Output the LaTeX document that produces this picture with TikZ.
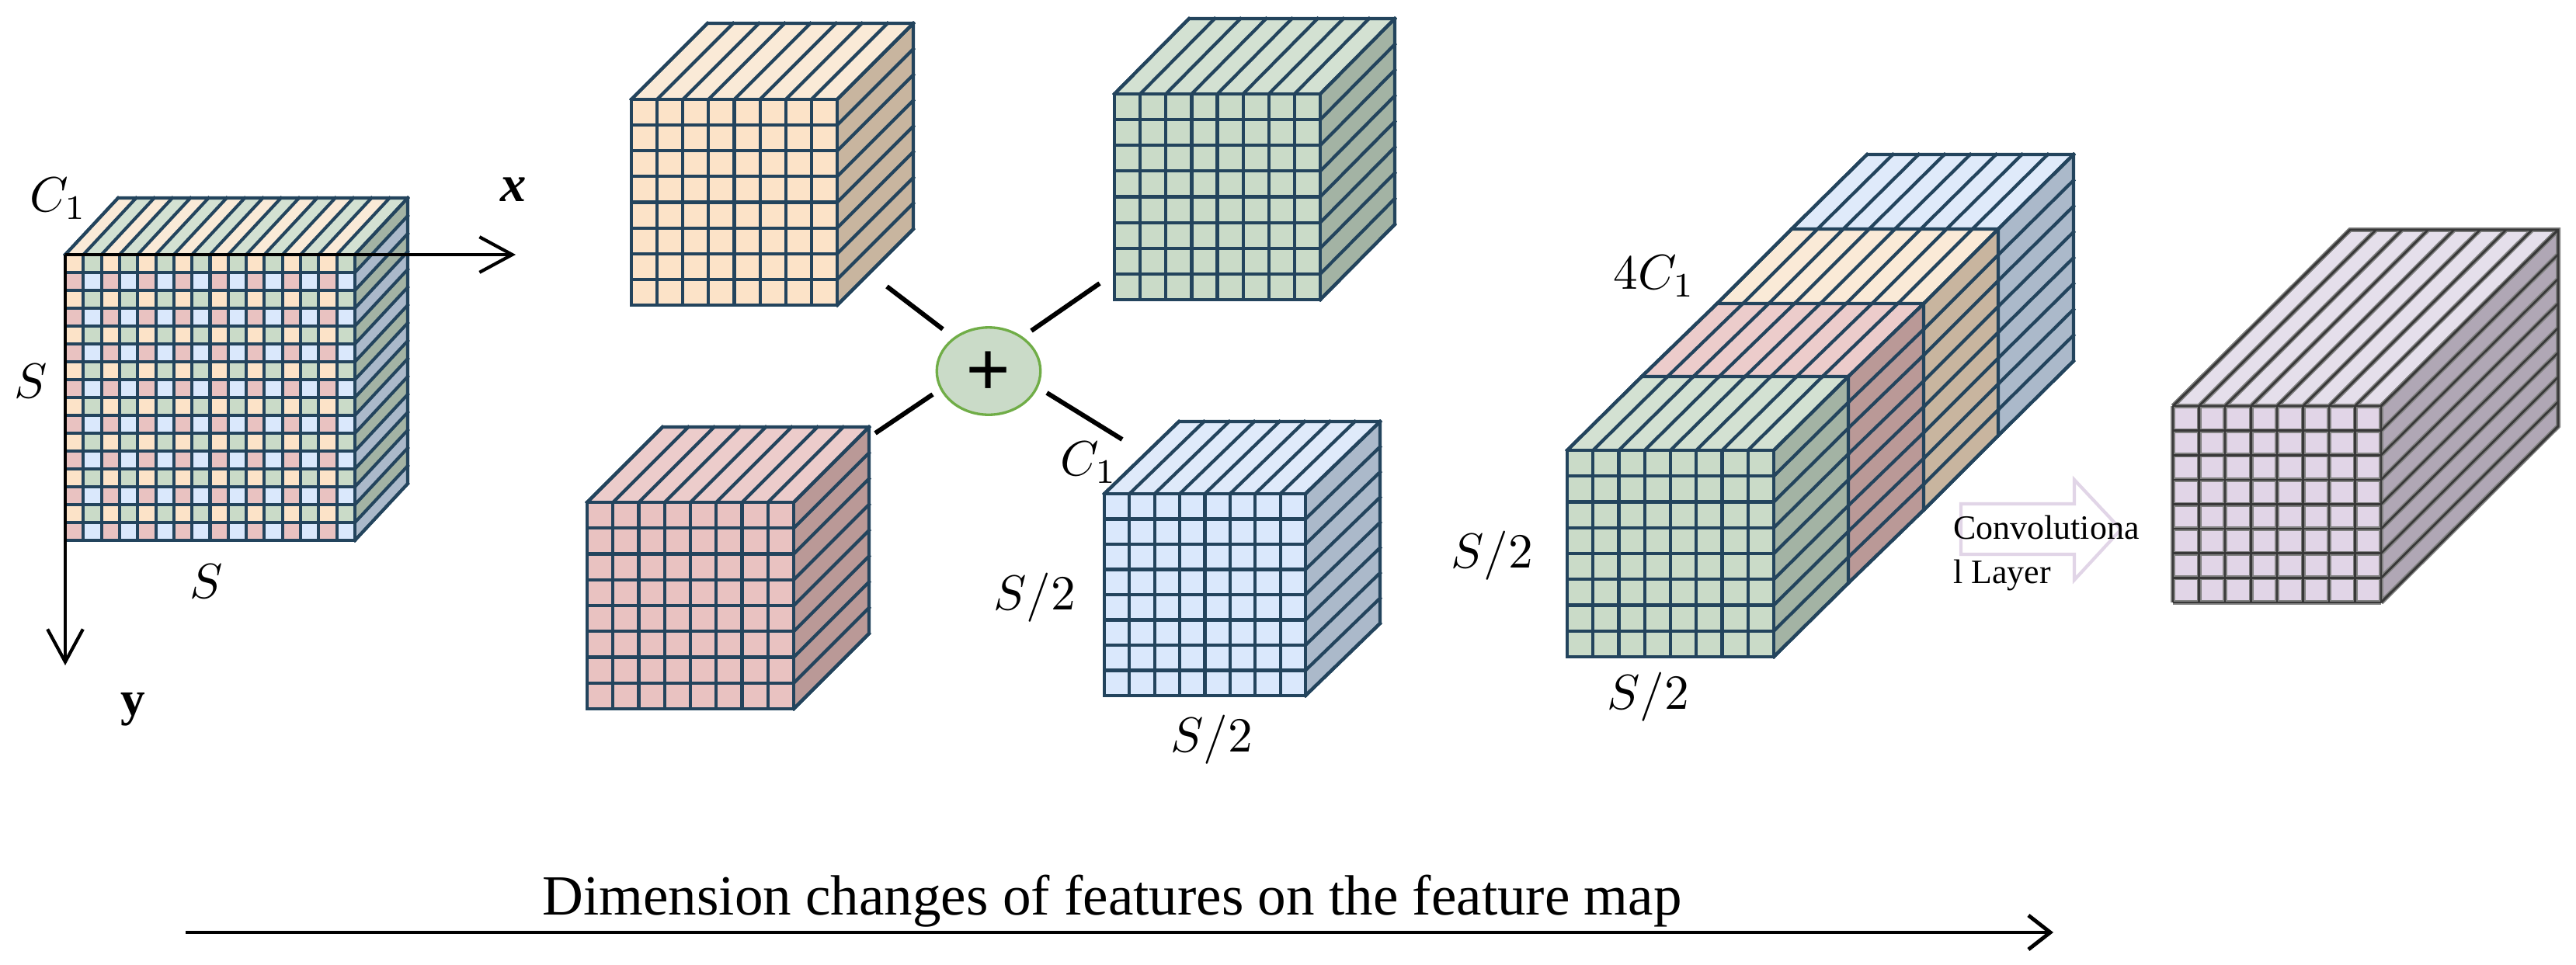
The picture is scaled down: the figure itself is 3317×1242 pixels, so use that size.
\documentclass[tikz,border=0pt]{standalone}
\usepackage{fontspec}
\setmainfont{Liberation Serif}
\usetikzlibrary{arrows.meta,shapes.geometric}
\definecolor{edge}{HTML}{23445D}
\definecolor{orF}{HTML}{FCE3C8}\definecolor{orT}{HTML}{FAEAD7}\definecolor{orS}{HTML}{C8B59F}
\definecolor{grF}{HTML}{CADBC8}\definecolor{grT}{HTML}{D3E1D2}\definecolor{grS}{HTML}{A3B3A4}
\definecolor{piF}{HTML}{E9C2C1}\definecolor{piT}{HTML}{ECCCCB}\definecolor{piS}{HTML}{BA9997}
\definecolor{blF}{HTML}{DAE8FC}\definecolor{blT}{HTML}{DFEAFA}\definecolor{blS}{HTML}{ABB9CA}
\definecolor{laF}{HTML}{E1D5E7}\definecolor{laT}{HTML}{E5DFEB}\definecolor{laS}{HTML}{B0A7B5}
\definecolor{sumring}{HTML}{70AD47}
\newcommand{\CubeFill}[9]{%
  \fill[#7] (#1,#2) rectangle ++(#3,#4);
  \fill[#8] (#1,#2) -- ++(#5,-#6) -- ++(#3,0) -- ++(-#5,#6) -- cycle;
  \fill[#9] ({#1+#3},#2) -- ++(#5,-#6) -- ++(0,#4) -- ++(-#5,#6) -- cycle;
}
\newcommand{\CubeLines}[7]{%
  \foreach \i in {0,...,#7}{
    \pgfmathsetmacro{\px}{#1+\i*#3/#7}
    \pgfmathsetmacro{\py}{#2+\i*#4/#7}
    \draw (\px,#2) -- ++(0,#4);
    \draw (#1,\py) -- ++(#3,0);
    \draw (\px,#2) -- ++(#5,-#6);
    \draw ({#1+#3},\py) -- ++(#5,-#6);
  }
  \draw[line join=miter] (#1,#2) -- ++(#5,-#6) -- ++(#3,0) -- ++(0,#4) -- ++(-#5,#6);
}
\newcommand{\Cube}[9]{%
  \CubeFill{#1}{#2}{#3}{#4}{#5}{#6}{#7}{#8}{#9}
  \begin{scope}[gridline]
    \CubeLines{#1}{#2}{#3}{#4}{#5}{#6}{8}
  \end{scope}
}
\tikzset{
  gridline/.style={draw=edge,line width=2.4pt,line cap=rect},
  gridthin/.style={draw=edge,line width=2.3pt,line cap=rect},
  halo/.style={draw=black!50,line width=3.4pt,line cap=butt},
  core/.style={draw=black!78,line width=1.5pt,line cap=butt},
  axisline/.style={draw=black,line width=2.4pt,-{Straight Barb[length=24pt,width=26pt,line width=2.4pt]}},
  flowline/.style={draw=black,line width=2.8pt,-{Straight Barb[length=16pt,width=25pt,line width=2.8pt]}},
  joinline/.style={draw=black,line width=3.4pt},
  mathlabel/.style={inner sep=0pt,scale=3.6},
  conv/.style={inner sep=0pt,align=left,font=\fontsize{25}{32.5}\selectfont},
  caption/.style={inner sep=0pt,font=\fontsize{41.6}{46}\selectfont},
}
\begin{document}
\begin{tikzpicture}[x=0.02cm,y=-0.02cm]
\useasboundingbox (0,0) rectangle (3317,1242);
\fill[white] (0,0) rectangle (3317,1242);

% mixed cube
\def\mx{84}\def\my{328}\def\mw{373}\def\mh{368}\def\mdx{68}\def\mdy{73}
\foreach \r in {0,...,15}{\foreach \c in {0,...,15}{
  \pgfmathtruncatemacro{\pr}{mod(\r,2)}
  \pgfmathtruncatemacro{\pc}{mod(\c,2)}
  \ifnum\pr=0 \ifnum\pc=0 \def\cc{orF}\else\def\cc{grF}\fi
  \else \ifnum\pc=0 \def\cc{piF}\else\def\cc{blF}\fi\fi
  \fill[\cc] ({\mx+\c*\mw/16},{\my+\r*\mh/16}) rectangle ++({\mw/16},{\mh/16});
}}
\foreach \c in {0,...,15}{
  \pgfmathtruncatemacro{\pc}{mod(\c,2)}
  \ifnum\pc=0 \def\cc{orT}\else\def\cc{grT}\fi
  \fill[\cc] ({\mx+\c*\mw/16},\my) -- ++(\mdx,-\mdy) -- ++({\mw/16},0) -- ++(-\mdx,\mdy) -- cycle;
  \ifnum\pc=0 \def\cc{grS}\else\def\cc{blS}\fi
  \fill[\cc] ({\mx+\mw},{\my+\c*\mh/16}) -- ++(\mdx,-\mdy) -- ++(0,{\mh/16}) -- ++(-\mdx,\mdy) -- cycle;
}
\begin{scope}[gridthin]
  \CubeLines{\mx}{\my}{\mw}{\mh}{\mdx}{\mdy}{16}
\end{scope}

% four single-colour cubes
\Cube{813}{128}{265}{265}{98}{98}{orF}{orT}{orS}
\Cube{1435}{121}{265}{265}{96}{97}{grF}{grT}{grS}
\Cube{756}{647}{266}{266}{97}{97}{piF}{piT}{piS}
\Cube{1422}{636}{259}{260}{96}{93}{blF}{blT}{blS}

% stacked cube
\Cube{2307}{295}{266}{266}{97}{96}{blF}{blT}{blS}
\Cube{2211}{391}{266}{266}{96}{96}{orF}{orT}{orS}
\Cube{2114}{485}{266}{266}{97}{94}{piF}{piT}{piS}
\Cube{2018}{580}{266}{266}{96}{95}{grF}{grT}{grS}

% convolution arrow
\path[draw=laF,line width=2.4pt] (2525,649) -- (2671,649) -- (2671,618) -- (2731,682) -- (2671,747) -- (2671,714) -- (2525,714) -- cycle;
\node[conv,anchor=north west] (convtext) at (2515,664) {Convolutiona\\l Layer};

% output cube
\CubeFill{2798}{523}{268}{253}{228}{227}{laF}{laT}{laS}
\begin{scope}[halo]
  \CubeLines{2798}{523}{268}{253}{228}{227}{8}
\end{scope}
\begin{scope}[core]
  \CubeLines{2798}{523}{268}{253}{228}{227}{8}
\end{scope}

% adder and its four spokes
\node[draw=sumring,fill=grF,line width=1.9pt,ellipse,minimum width=76pt,minimum height=64pt,inner sep=0pt] (sum) at (1273,478) {};
\node[inner sep=0pt,font=\fontsize{58}{58}\selectfont\bfseries] (plus) at (1273,482) {+};
\coordinate (ja) at (1142,369); \coordinate (jb) at (1214,424);
\coordinate (jc) at (1416,365); \coordinate (jd) at (1328,426);
\coordinate (je) at (1127,558); \coordinate (jf) at (1201,508);
\coordinate (jg) at (1445,566); \coordinate (jh) at (1348,506);
\draw[joinline] (ja) -- (jb);
\draw[joinline] (jc) -- (jd);
\draw[joinline] (je) -- (jf);
\draw[joinline] (jg) -- (jh);

% axes
\coordinate (origin) at (84,328);
\coordinate (xend) at (664,328);
\coordinate (yend) at (84,857);
\draw[axisline] (origin) -- (xend);
\draw[axisline] (origin) -- (yend);
\node[inner sep=0pt,font=\fontsize{38}{40}\selectfont\bfseries\itshape] (xlabel) at (661,244) {x};
\node[inner sep=0pt,font=\fontsize{36}{40}\selectfont\bfseries] (ylabel) at (171,914) {y};

% labels
\node[mathlabel] (cone) at (75,256) {$C_1$};
\node[mathlabel] (sleft) at (40,491) {$S$};
\node[mathlabel] (sbottom) at (266,749) {$S$};
\node[mathlabel] (ctwo) at (1402,596) {$C_1$};
\node[mathlabel] (hleft) at (1332,770) {$S/2$};
\node[mathlabel] (hbottom) at (1560,953) {$S/2$};
\node[mathlabel] (fourc) at (2130,356) {$4C_1$};
\node[mathlabel] (hstack) at (1921,716) {$S/2$};
\node[mathlabel] (hstackb) at (2122,898) {$S/2$};

% caption and its arrow
\node[caption,anchor=base west] (capt) at (698,1178) {Dimension changes of features on the feature map};
\coordinate (flowa) at (239,1201);
\coordinate (flowb) at (2644,1201);
\draw[flowline] (flowa) -- (flowb);
\end{tikzpicture}
\end{document}
